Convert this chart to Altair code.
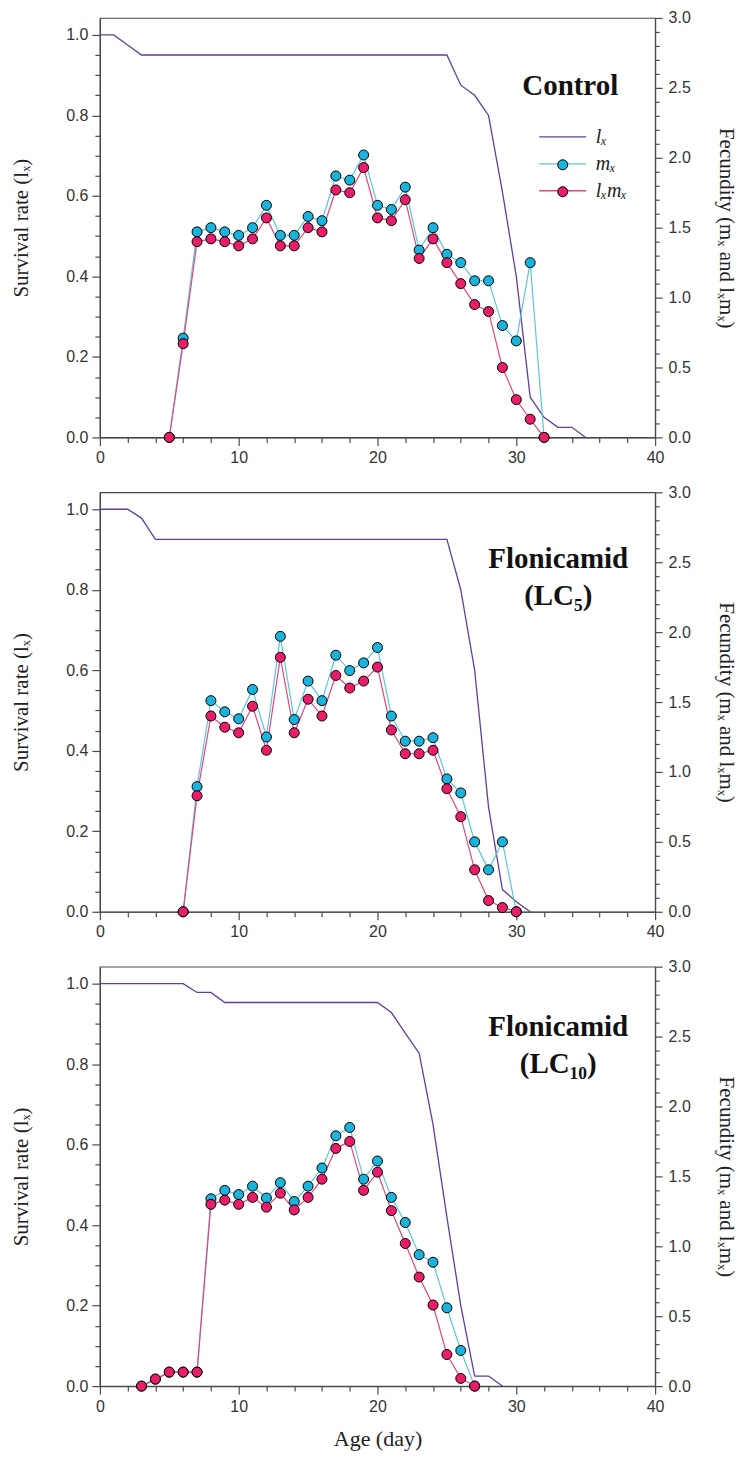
import altair as alt
import pandas as pd

# ---------------- data ----------------
LX, MX, LXMX = "lₓ", "mₓ", "lₓmₓ"

# Control
c_lx_day = list(range(0, 36))
c_lx = [1.0, 1.0, 0.975, 0.95, 0.95, 0.95, 0.95, 0.95, 0.95, 0.95, 0.95, 0.95,
        0.95, 0.95, 0.95, 0.95, 0.95, 0.95, 0.95, 0.95, 0.95, 0.95, 0.95, 0.95,
        0.95, 0.95, 0.875, 0.85, 0.80, 0.61, 0.40, 0.10, 0.05, 0.025, 0.025, 0.0]
c_f_day = list(range(5, 33))
c_mx = [0.0, 0.71, 1.47, 1.50, 1.47, 1.445, 1.50, 1.66, 1.445, 1.445, 1.58, 1.55,
        1.87, 1.84, 2.02, 1.66, 1.63, 1.79, 1.34, 1.50, 1.31, 1.25, 1.12, 1.12,
        0.80, 0.69, 1.25, 0.0]
c_lxmx = [0.0, 0.67, 1.40, 1.42, 1.40, 1.37, 1.42, 1.57, 1.37, 1.37, 1.50, 1.47,
          1.77, 1.75, 1.93, 1.57, 1.55, 1.70, 1.28, 1.42, 1.25, 1.10, 0.95, 0.90,
          0.50, 0.27, 0.13, 0.0]

# Flonicamid LC5
l5_lx_day = list(range(0, 32))
l5_lx = [1.0, 1.0, 1.0, 0.978, 0.925, 0.925, 0.925, 0.925, 0.925, 0.925, 0.925,
         0.925, 0.925, 0.925, 0.925, 0.925, 0.925, 0.925, 0.925, 0.925, 0.925,
         0.925, 0.925, 0.925, 0.925, 0.925, 0.80, 0.60, 0.26, 0.055, 0.025, 0.0]
l5_f_day = list(range(6, 31))
l5_mx = [0.0, 0.895, 1.51, 1.43, 1.38, 1.59, 1.25, 1.97, 1.375, 1.65, 1.51, 1.835,
         1.725, 1.78, 1.89, 1.40, 1.22, 1.22, 1.245, 0.95, 0.85, 0.50, 0.30, 0.50, 0.0]
l5_lxmx = [0.0, 0.83, 1.40, 1.32, 1.28, 1.47, 1.155, 1.82, 1.28, 1.52, 1.40, 1.69,
           1.60, 1.65, 1.75, 1.30, 1.13, 1.13, 1.155, 0.88, 0.68, 0.30, 0.08, 0.03, 0.0]

# Flonicamid LC10
l10_lx_day = list(range(0, 30))
l10_lx = [1.0, 1.0, 1.0, 1.0, 1.0, 1.0, 1.0, 0.978, 0.978, 0.953, 0.953, 0.953,
          0.953, 0.953, 0.953, 0.953, 0.953, 0.953, 0.953, 0.953, 0.953, 0.928,
          0.877, 0.827, 0.65, 0.42, 0.20, 0.025, 0.025, 0.0]
l10_f_day = list(range(3, 28))
l10_mx = [0.0, 0.05, 0.10, 0.10, 0.10, 1.34, 1.40, 1.37, 1.43, 1.345, 1.455, 1.32,
          1.43, 1.56, 1.79, 1.85, 1.48, 1.61, 1.35, 1.17, 0.94, 0.886, 0.56, 0.255, 0.0]
l10_lxmx = [0.0, 0.05, 0.10, 0.10, 0.10, 1.30, 1.33, 1.30, 1.35, 1.28, 1.38, 1.26,
            1.35, 1.48, 1.70, 1.75, 1.40, 1.53, 1.255, 1.02, 0.78, 0.58, 0.226, 0.055, 0.0]

panel_titles = [["Control"], ["Flonicamid", "(LC₅)"], ["Flonicamid", "(LC₁₀)"]]
x_ticks = list(range(0, 41, 2))
left_ticks = [round(i * 0.05, 2) for i in range(0, 21)]
right_ticks = [round(i * 0.1, 1) for i in range(0, 31)]

# ---------------- styles ----------------
PURPLE = "#5f3f9e"
CYAN_LINE = "#5cc6dc"
CYAN_FILL = "#19b3dc"
PINK_LINE = "#e0477f"
PINK_FILL = "#e91d6a"
AXIS_COL = "#4a4a4a"

color_scale = alt.Scale(domain=[LX, MX, LXMX], range=[PURPLE, CYAN_LINE, PINK_LINE])
fill_scale = alt.Scale(domain=[MX, LXMX], range=[CYAN_FILL, PINK_FILL])

LEG_X = 453.5
LEG_Y = 109
ROW = 28

line_legend = alt.Legend(
    title=None, orient="none", legendX=LEG_X, legendY=LEG_Y,
    symbolType="M-4.7,0L4.7,0", symbolSize=100, symbolStrokeWidth=1.3,
    symbolFillColor="transparent",
    labelFont="Liberation Serif", labelFontStyle="italic", labelFontSize=20,
    labelColor="#222", labelOffset=23, rowPadding=7, padding=0,
)
fill_legend = alt.Legend(
    title=None, orient="none", legendX=LEG_X, legendY=LEG_Y + ROW,
    symbolType="circle", symbolSize=100, symbolStrokeColor="black",
    symbolStrokeWidth=1, symbolOpacity=1,
    labelFont="Liberation Serif", labelFontStyle="italic", labelFontSize=20,
    labelOpacity=0, labelOffset=23, rowPadding=7, padding=0,
)

x_scale = alt.Scale(domain=[0, 40], nice=False, zero=False)
left_scale = alt.Scale(domain=[0, 1.042], nice=False, zero=False)
right_scale = alt.Scale(domain=[0, 3.0], nice=False, zero=False)


def x_axis(title):
    kw = dict(
        values=x_ticks,
        labelExpr="datum.value % 10 === 0 ? datum.label : ''",
        tickSize={"condition": {"test": "datum.value % 10 === 0", "value": 8}, "value": 5},
        labelPadding=4, labelFlush=False, labelOverlap=False, format="d",
        titlePadding=14,
    )
    kw["title"] = title if title else None
    return alt.Axis(**kw)


left_axis = alt.Axis(
    orient="left", values=left_ticks, format=".1f",
    labelExpr="abs(datum.value * 5 - round(datum.value * 5)) < 0.001 ? datum.label : ''",
    tickSize={"condition": {"test": "abs(datum.value * 5 - round(datum.value * 5)) < 0.001", "value": 8}, "value": 5},
    labelPadding=4, labelFlush=False, labelOverlap=False,
    title="Survival rate (lₓ)", titlePadding=34, titleFontSize=21,
)
right_axis = alt.Axis(
    orient="right", values=right_ticks, format=".1f",
    labelExpr="abs(datum.value * 2 - round(datum.value * 2)) < 0.001 ? datum.label : ''",
    tickSize={"condition": {"test": "abs(datum.value * 2 - round(datum.value * 2)) < 0.001", "value": 7}, "value": 4},
    labelPadding=6, labelFlush=False, labelOverlap=False,
    title="Fecundity (mₓ and lₓmₓ)", titlePadding=25, titleFontSize=21,
)


def panel(lx_day, lx, f_day, mx, lxmx, title_lines, dx, off, xtitle):
    lx_df = pd.DataFrame({"day": lx_day, "value": lx, "series": LX})
    mx_df = pd.DataFrame({"day": f_day, "value": mx, "series": MX})
    lxmx_df = pd.DataFrame({"day": f_day, "value": lxmx, "series": LXMX})
    xa = x_axis(xtitle)
    X = alt.X("day:Q", scale=x_scale, axis=xa)

    lx_line = alt.Chart(lx_df).mark_line(strokeWidth=1.3).encode(
        x=X,
        y=alt.Y("value:Q", scale=left_scale, axis=left_axis),
        color=alt.Color("series:N", scale=color_scale, legend=line_legend),
    )

    def fline(df):
        return alt.Chart(df).mark_line(strokeWidth=1.2).encode(
            x=X,
            y=alt.Y("value:Q", scale=right_scale, axis=right_axis),
            color=alt.Color("series:N", scale=color_scale, legend=line_legend),
        )

    def fpts(df):
        return alt.Chart(df).mark_circle(size=100, opacity=1, stroke="black", strokeWidth=1).encode(
            x=X,
            y=alt.Y("value:Q", scale=right_scale, axis=right_axis),
            fill=alt.Fill("series:N", scale=fill_scale, legend=fill_legend),
        )

    right = alt.layer(fline(mx_df), fline(lxmx_df), fpts(mx_df), fpts(lxmx_df))
    return alt.layer(lx_line, right).resolve_scale(y="independent").properties(
        width=556, height=420,
        title=alt.TitleParams(
            text=title_lines, orient="top", anchor="end", frame="group",
            align="center", baseline="top", offset=off, dx=dx,
            font="Liberation Serif", fontSize=29, fontWeight="bold",
            color="#111", lineHeight=37,
        ),
    )


p1 = panel(c_lx_day, c_lx, c_f_day, c_mx, c_lxmx, panel_titles[0], -85, -91, None)
p2 = panel(l5_lx_day, l5_lx, l5_f_day, l5_mx, l5_lxmx, panel_titles[1], -97, -127, None)
p3 = panel(l10_lx_day, l10_lx, l10_f_day, l10_mx, l10_lxmx, panel_titles[2], -97, -120, "Age (day)")

chart = alt.vconcat(p1, p2, p3, spacing=55, bounds="flush").resolve_scale(
    x="independent", y="independent"
).configure_view(
    stroke=AXIS_COL, strokeWidth=1.2
).configure_axis(
    domainColor=AXIS_COL, domainWidth=1.2, tickColor=AXIS_COL, tickWidth=1.2,
    labelColor="#333", labelFont="Liberation Sans", labelFontSize=16,
    titleFont="Liberation Serif", titleFontSize=22, titleFontWeight="normal",
    titleColor="#222", grid=False,
).properties(
    padding={"left": 2, "top": 0, "right": 0, "bottom": 0}
)

chart.save("out.html", embed_options={"renderer": "svg", "actions": False})
